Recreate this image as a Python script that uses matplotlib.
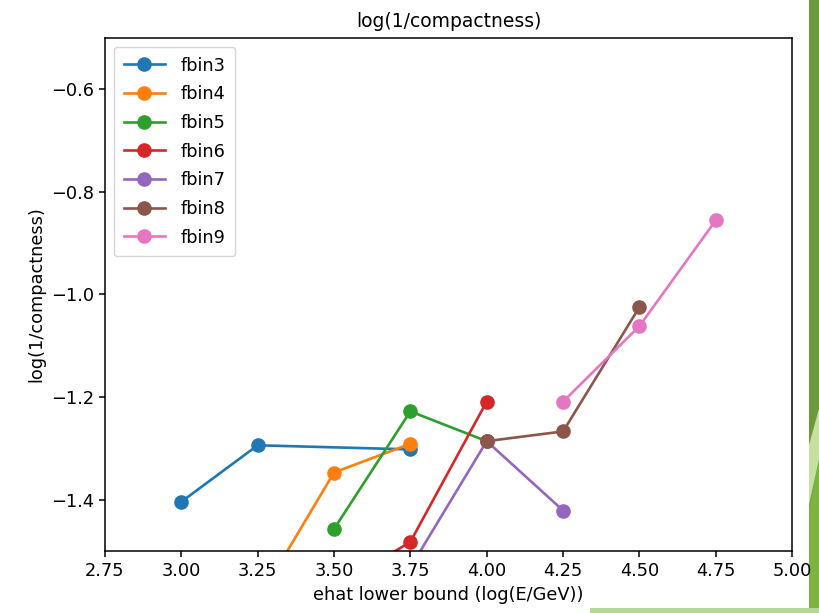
import matplotlib
matplotlib.use("Agg")
import matplotlib.pyplot as plt
from matplotlib.patches import Rectangle, Polygon

labels = ["fbin3", "fbin4", "fbin5", "fbin6", "fbin7", "fbin8", "fbin9"]
x_fbin3 = [3.00, 3.25, 3.75]
y_fbin3 = [-1.404, -1.294, -1.302]
x_fbin4 = [3.25, 3.50, 3.75]
y_fbin4 = [-1.597, -1.347, -1.291]
x_fbin5 = [3.50, 3.75, 4.00]
y_fbin5 = [-1.457, -1.228, -1.286]
x_fbin6 = [3.50, 3.75, 4.00]
y_fbin6 = [-1.573, -1.482, -1.209]
x_fbin7 = [3.75, 4.00, 4.25]
y_fbin7 = [-1.532, -1.286, -1.421]
x_fbin8 = [4.00, 4.25, 4.50]
y_fbin8 = [-1.286, -1.267, -1.025]
x_fbin9 = [4.25, 4.50, 4.75]
y_fbin9 = [-1.209, -1.062, -0.856]

xs = [x_fbin3, x_fbin4, x_fbin5, x_fbin6, x_fbin7, x_fbin8, x_fbin9]
ys = [y_fbin3, y_fbin4, y_fbin5, y_fbin6, y_fbin7, y_fbin8, y_fbin9]

fig = plt.figure(figsize=(8.2, 6.13), dpi=100)
ax = fig.add_axes([0.128, 0.101, 0.838, 0.837])

for lab, x, y in zip(labels, xs, ys):
    ax.plot(x, y, marker="o", markersize=9.5, linewidth=1.9, label=lab)

ax.set_xlim(2.75, 5.0)
ax.set_ylim(-1.5, -0.501)
ax.set_xticks([2.75, 3.00, 3.25, 3.50, 3.75, 4.00, 4.25, 4.50, 4.75, 5.00])
ax.set_xticklabels(["2.75", "3.00", "3.25", "3.50", "3.75", "4.00", "4.25", "4.50", "4.75", "5.00"])
ax.set_yticks([-1.4, -1.2, -1.0, -0.8, -0.6])
ax.tick_params(labelsize=12.8, length=4.5, width=1.1)
for s in ax.spines.values():
    s.set_linewidth(1.1)
ax.set_title("log(1/compactness)", fontsize=13.5, pad=8)
ax.set_xlabel("ehat lower bound (log(E/GeV))", fontsize=12.8)
ax.set_ylabel("log(1/compactness)", fontsize=12.8)
ax.legend(loc="upper left", fontsize=12.8, handlelength=2.3, handletextpad=0.9,
          borderpad=0.55, labelspacing=0.6)

# slide decoration on the right edge
def fx(p):
    return p / 820

def fy(p):
    return 1 - p / 613

fig.patches.append(Rectangle((fx(809), 0), fx(11), 1, transform=fig.transFigure,
                             facecolor="#6a9a3a", edgecolor="none", zorder=-1))
fig.patches.append(Polygon([(fx(809), fy(510)), (fx(820), fy(455)), (fx(820), fy(613)), (fx(809), fy(613))],
                           closed=True, transform=fig.transFigure,
                           facecolor="#7cb342", edgecolor="none", zorder=-1))
fig.patches.append(Polygon([(fx(809), fy(445)), (fx(820), fy(405)), (fx(820), fy(455)), (fx(809), fy(505))],
                           closed=True, transform=fig.transFigure,
                           facecolor="#c5e0a0", edgecolor="none", zorder=-1))
fig.patches.append(Rectangle((fx(590), 0), fx(230), 5 / 613, transform=fig.transFigure,
                             facecolor="#b5d89a", edgecolor="none", zorder=-1))

fig.savefig("out.png", dpi=100)
